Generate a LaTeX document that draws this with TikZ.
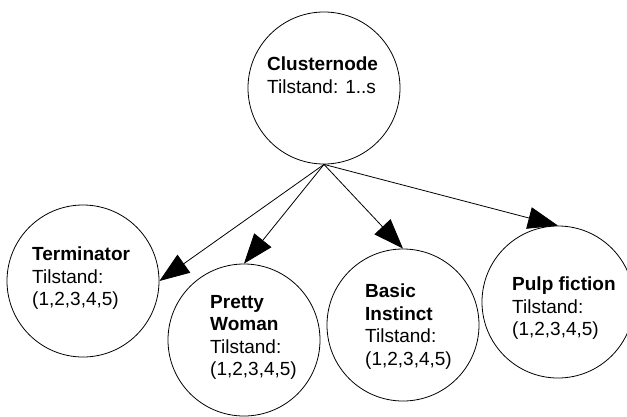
\documentclass[tikz,border=0pt]{standalone}
\usepackage{fontspec}
\setmainfont{Liberation Sans}
\usetikzlibrary{arrows.meta}
\begin{document}
\begin{tikzpicture}[x=1pt,y=-1pt,
  state/.style={circle,draw=black,line width=0.8pt,minimum size=152pt,inner sep=0pt,fill=white},
  txt/.style={anchor=north west,inner sep=0pt,align=left,font=\fontsize{19}{22.5}\selectfont},
  link/.style={line width=0.8pt,-{Triangle[length=30pt,width=22pt]}}]
\useasboundingbox (0,0) rectangle (627,416);
\clip (0,0) rectangle (627,416);
\fill[white] (0,0) rectangle (627,416);
\node[state] (c) at (324,88) {};
\node[state] (t) at (83,281) {};
\node[state] (pw) at (244,340) {};
\node[state] (bi) at (403,325) {};
\node[state] (pf) at (558,302) {};
\node[txt] (ct) at (267,57) {\textbf{Clusternode}\\Tilstand: 1..s};
\node[txt] (tt) at (32,247) {\textbf{Terminator}\\Tilstand:\\(1,2,3,4,5)};
\node[txt] (pwt) at (210,295) {\textbf{Pretty}\\\textbf{Woman}\\Tilstand:\\(1,2,3,4,5)};
\node[txt] (bit) at (365,284) {\textbf{Basic}\\\textbf{Instinct}\\Tilstand:\\(1,2,3,4,5)};
\node[txt] (pft) at (512,277) {\textbf{Pulp fiction}\\Tilstand:\\(1,2,3,4,5)};
\draw[link] (c.south) -- (t.east);
\draw[link] (c.south) -- (pw.north);
\draw[link] (c.south) -- (bi.north);
\draw[link] (c.south) -- (pf.north);
\end{tikzpicture}
\end{document}
